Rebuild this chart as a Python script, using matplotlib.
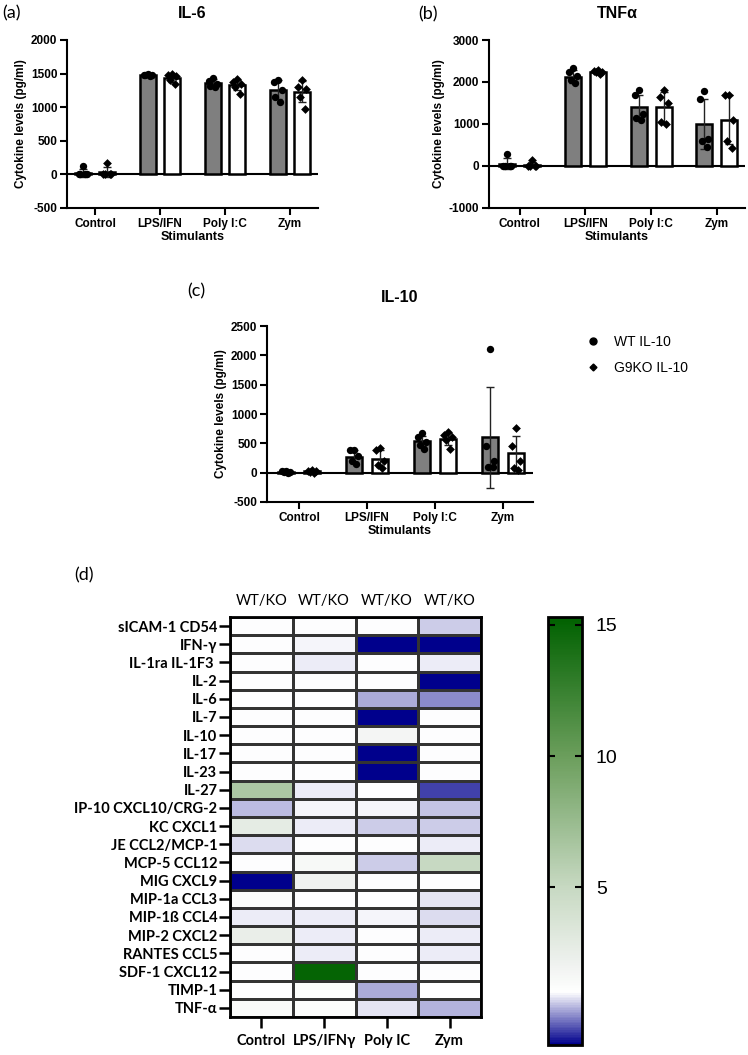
import numpy as np
import matplotlib
matplotlib.use("Agg")
import matplotlib.pyplot as plt
from matplotlib.colors import LinearSegmentedColormap, Normalize
from matplotlib.lines import Line2D

# ---- bar chart data ----
stimulants = ["Control", "LPS/IFN", "Poly I:C", "Zym"]

il6_wt_mean = [25, 1480, 1360, 1260]
il6_wt_sd = [58, 10, 55, 145]
il6_ko_mean = [35, 1430, 1330, 1230]
il6_ko_sd = [75, 55, 80, 160]
il6_wt_pts = [[130, 0, 0, 0, 0], [1490, 1485, 1480, 1475, 1470],
              [1440, 1390, 1350, 1320, 1300], [1400, 1380, 1250, 1150, 1070]]
il6_ko_pts = [[170, 0, 0, 0, 0], [1490, 1480, 1460, 1400, 1350],
              [1420, 1370, 1340, 1300, 1200], [1400, 1300, 1270, 1150, 980]]

tnf_wt_mean = [55, 2130, 1400, 1000]
tnf_wt_sd = [125, 150, 300, 600]
tnf_ko_mean = [30, 2250, 1400, 1100]
tnf_ko_sd = [65, 35, 360, 580]
tnf_wt_pts = [[280, 0, 0, 0, 0], [2330, 2230, 2150, 2050, 1980],
              [1800, 1680, 1250, 1150, 1100], [1780, 1600, 650, 600, 450]]
tnf_ko_pts = [[150, 0, 0, 0, 0], [2290, 2270, 2250, 2240, 2200],
              [1800, 1650, 1500, 1050, 1000], [1700, 1700, 1100, 600, 430]]

il10_wt_mean = [15, 270, 540, 600]
il10_wt_sd = [12, 110, 80, 860]
il10_ko_mean = [22, 240, 580, 330]
il10_ko_sd = [18, 150, 100, 290]
il10_wt_pts = [[30, 20, 10, 10, 0], [390, 380, 280, 200, 150],
               [670, 600, 520, 480, 400], [2110, 450, 200, 100, 100]]
il10_ko_pts = [[50, 30, 20, 10, 0], [420, 390, 200, 130, 80],
               [700, 650, 600, 550, 400], [760, 450, 200, 80, 50]]

# ---- heatmap data (WT/KO fold change) ----
cytokines = ["sICAM-1 CD54", "IFN-γ", "IL-1ra IL-1F3 ", "IL-2", "IL-6", "IL-7",
             "IL-10", "IL-17", "IL-23", "IL-27", "IP-10 CXCL10/CRG-2",
             "KC CXCL1", "JE CCL2/MCP-1", "MCP-5 CCL12", "MIG CXCL9",
             "MIP-1a CCL3", "MIP-1ß CCL4", "MIP-2 CXCL2", "RANTES CCL5",
             "SDF-1 CXCL12", "TIMP-1", "TNF-α"]
heat_cols = ["Control", "LPS/IFNγ", "Poly IC", "Zym"]
fold_change = [
    [1.0, 1.0, 1.0, 0.6],
    [1.0, 0.95, -1.0, -1.0],
    [1.0, 0.9, 1.0, 0.85],
    [1.0, 1.0, 1.0, -1.0],
    [1.0, 1.0, 0.4, 0.12],
    [1.0, 1.0, -1.0, 1.0],
    [1.0, 1.0, 1.8, 1.0],
    [1.0, 1.0, -1.0, 1.0],
    [1.0, 1.0, -1.0, 1.0],
    [6.5, 0.9, 1.0, -0.45],
    [0.5, 0.95, 0.95, 0.55],
    [2.8, 0.85, 0.65, 0.6],
    [0.75, 1.0, 1.0, 0.85],
    [1.0, 1.5, 0.65, 5.0],
    [-1.0, 2.0, 1.0, 1.0],
    [1.3, 1.0, 1.0, 0.8],
    [0.85, 0.88, 0.95, 0.75],
    [2.5, 0.85, 1.0, 0.9],
    [1.0, 0.85, 1.0, 0.85],
    [1.0, 15.0, 1.0, 1.0],
    [1.0, 1.2, 0.4, 1.0],
    [1.4, 1.2, 0.8, 0.45],
]
cbar_ticks = [5, 10, 15]

W, H = 748, 1055
fig = plt.figure(figsize=(W / 100, H / 100), dpi=100)
ARIAL = "Liberation Sans"
CAL = ["Lato", "DejaVu Sans"]


def px_axes(x0, y0, x1, y1):
    return fig.add_axes([x0 / W, 1 - y1 / H, (x1 - x0) / W, (y1 - y0) / H])


def bar_panel(ax, wt_mean, wt_sd, wt_pts, ko_mean, ko_sd, ko_pts,
              ylim, yticks, xlim):
    x = np.arange(len(stimulants))
    off, bw = 0.19, 0.245
    jitter = np.array([0.0, -0.06, 0.06, -0.035, 0.035])
    ax.axhline(0, color="black", lw=1.5, zorder=1)
    ax.bar(x - off, wt_mean, width=bw, color="#7f7f7f", edgecolor="black",
           linewidth=1.8, zorder=2)
    ax.bar(x + off, ko_mean, width=bw, color="white", edgecolor="black",
           linewidth=1.8, zorder=2)
    ax.errorbar(x - off, wt_mean, yerr=wt_sd, fmt="none", ecolor="#222222",
                elinewidth=1.0, capsize=3, capthick=1.0, zorder=3)
    ax.errorbar(x + off, ko_mean, yerr=ko_sd, fmt="none", ecolor="#222222",
                elinewidth=1.0, capsize=3, capthick=1.0, zorder=3)
    for i in x:
        ax.scatter(i - off + jitter, wt_pts[i], s=28, marker="o",
                   color="black", zorder=4, linewidths=0)
        ax.scatter(i + off + jitter, ko_pts[i], s=20, marker="D",
                   color="black", zorder=4, linewidths=0)
    ax.set_xlim(*xlim)
    ax.set_ylim(*ylim)
    ax.set_yticks(yticks)
    ax.set_xticks(x)
    ax.set_xticklabels(stimulants, fontsize=8.5, fontweight="bold",
                       family=ARIAL)
    ax.set_yticklabels([str(t) for t in yticks], fontsize=8.5,
                       fontweight="bold", family=ARIAL)
    ax.set_xlabel("Stimulants", fontsize=9, fontweight="bold", family=ARIAL,
                  labelpad=1)
    ax.set_ylabel("Cytokine levels (pg/ml)", fontsize=8.5, fontweight="bold",
                  family=ARIAL, labelpad=3)
    for s in ["top", "right"]:
        ax.spines[s].set_visible(False)
    for s in ["left", "bottom"]:
        ax.spines[s].set_linewidth(1.5)
    ax.tick_params(axis="both", width=1.5, length=5, pad=2)


ax_a = px_axes(67, 40, 318, 208)
bar_panel(ax_a, il6_wt_mean, il6_wt_sd, il6_wt_pts, il6_ko_mean, il6_ko_sd,
          il6_ko_pts, (-500, 2000), [-500, 0, 500, 1000, 1500, 2000],
          (-0.43, 3.43))
ax_b = px_axes(489, 40, 745, 208)
bar_panel(ax_b, tnf_wt_mean, tnf_wt_sd, tnf_wt_pts, tnf_ko_mean, tnf_ko_sd,
          tnf_ko_pts, (-1000, 3000), [-1000, 0, 1000, 2000, 3000],
          (-0.47, 3.43))
ax_c = px_axes(267, 326, 533, 502)
bar_panel(ax_c, il10_wt_mean, il10_wt_sd, il10_wt_pts, il10_ko_mean,
          il10_ko_sd, il10_ko_pts, (-500, 2500),
          [-500, 0, 500, 1000, 1500, 2000, 2500], (-0.47, 3.44))

fig.text(192.5 / W, 1 - 14 / H, "IL-6", ha="center", va="center",
         fontsize=11.5, fontweight="bold", family=ARIAL)
fig.text(617 / W, 1 - 14 / H, "TNFα", ha="center", va="center",
         fontsize=11.5, fontweight="bold", family=ARIAL)
fig.text(400 / W, 1 - 297 / H, "IL-10", ha="center", va="center",
         fontsize=11.5, fontweight="bold", family=ARIAL)
for lab, px, py in [("(a)", 2, 13), ("(b)", 418, 14), ("(c)", 187, 291),
                    ("(d)", 74, 575)]:
    fig.text(px / W, 1 - py / H, lab, ha="left", va="center", fontsize=13,
             family=CAL)

handles = [Line2D([], [], ls="none", marker="o", color="black", ms=5),
           Line2D([], [], ls="none", marker="D", color="black", ms=3.5)]
fig.legend(handles, ["WT IL-10", "G9KO IL-10"], loc="upper left",
           bbox_to_anchor=(570 / W, 1 - 322 / H), frameon=False,
           prop={"family": ARIAL, "size": 10}, handletextpad=0.8,
           labelspacing=0.9, handlelength=1.5)

# ---- heatmap ----
vmin, vmax = -1.0, 15.3
nodes = [(-1.0, (0.0, 0.0, 0.55)), (1.0, (1.0, 1.0, 1.0)),
         (2.0, (0.94, 0.95, 0.94)), (5.0, (0.78, 0.85, 0.76)),
         (10.0, (0.42, 0.62, 0.36)), (15.3, (0.0, 0.38, 0.0))]
cmap = LinearSegmentedColormap.from_list(
    "wtko", [((v - vmin) / (vmax - vmin), c) for v, c in nodes])
norm = Normalize(vmin=vmin, vmax=vmax)

ax_d = px_axes(230, 617, 481, 1017)
vals = np.array(fold_change)
mesh = ax_d.pcolormesh(vals, cmap=cmap, norm=norm, edgecolors="#333333",
                       linewidth=1.0)
ax_d.set_xlim(0, vals.shape[1])
ax_d.set_ylim(vals.shape[0], 0)
ax_d.set_yticks(np.arange(vals.shape[0]) + 0.5)
ax_d.set_yticklabels(cytokines, fontsize=10.5, fontweight="bold", family=CAL)
ax_d.set_xticks(np.arange(vals.shape[1]) + 0.5)
ax_d.set_xticklabels(heat_cols, fontsize=10.5, fontweight="bold", family=CAL)
ax_d.tick_params(axis="y", length=8, width=1.8, pad=1)
ax_d.tick_params(axis="x", length=8, width=1.8, pad=4)
for s in ax_d.spines.values():
    s.set_linewidth(2)
for j in range(vals.shape[1]):
    ax_d.text(j + 0.5, -0.5, "WT/KO", ha="center", va="bottom", fontsize=10.5,
              family=CAL)

cax = px_axes(548, 617, 582, 1045)
cb = fig.colorbar(mesh, cax=cax, ticks=cbar_ticks)
cb.outline.set_linewidth(2)
cax.tick_params(direction="in", left=True, right=True, length=5, width=1.5,
                labelsize=14, pad=10)
for t in cax.get_yticklabels():
    t.set_family(ARIAL)

fig.savefig("out.png", dpi=100)
